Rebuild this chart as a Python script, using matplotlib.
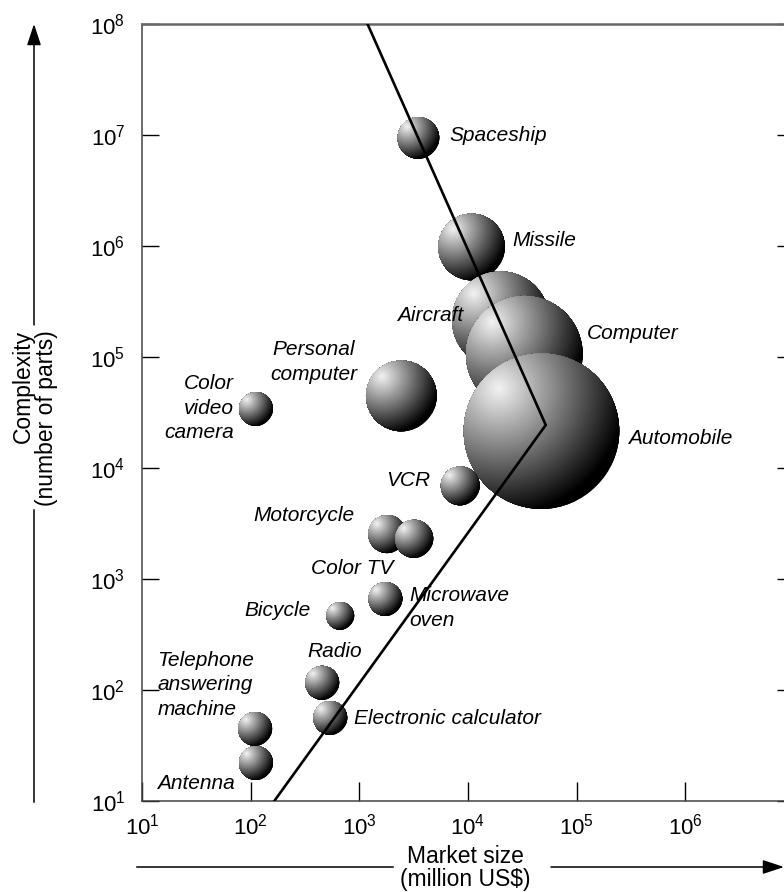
#Complexity vs market size bubble chart

import numpy as np
import matplotlib
matplotlib.use('Agg')
import matplotlib.pyplot as plt
from matplotlib.patches import Circle
from matplotlib.lines import Line2D
from matplotlib.transforms import ScaledTranslation, offset_copy

plt.rcParams['font.family'] = ['Liberation Sans', 'DejaVu Sans']
plt.rcParams['mathtext.fontset'] = 'custom'
plt.rcParams['mathtext.rm'] = 'Liberation Sans'
plt.rcParams['mathtext.it'] = 'Liberation Sans:italic'

#data
products = ['Spaceship', 'Missile', 'Aircraft', 'Computer', 'Automobile',
            'Personal\ncomputer', 'Color\nvideo\ncamera', 'VCR', 'Motorcycle',
            'Color TV', 'Microwave\noven', 'Bicycle', 'Radio',
            'Electronic calculator', 'Telephone\nanswering\nmachine', 'Antenna']
market = [3.5e3, 1.08e4, 2.0e4, 3.3e4, 4.75e4,
          2.44e3, 112, 8.5e3, 1.81e3,
          3.2e3, 1.74e3, 668, 456,
          541, 110, 112]                      # million US$
parts = [9.4e6, 9.8e5, 2.15e5, 1.06e5, 2.15e4,
         4.46e4, 3.4e4, 6.9e3, 2.54e3,
         2.3e3, 660, 465, 116,
         56, 44.6, 22]                        # number of parts
bubble = [15, 24, 35, 42, 56,
          25.5, 12.2, 14, 13.7,
          13.7, 12.2, 10, 12.2,
          12.2, 12.2, 12.2]                   # relative bubble radius

trend_x = [1.19e3, 5.2e4, 165]
trend_y = [1e8, 2.44e4, 10]

xtick_vals = [1e1, 1e2, 1e3, 1e4, 1e5, 1e6]
ytick_vals = [1e1, 1e2, 1e3, 1e4, 1e5, 1e6, 1e7, 1e8]

#label placement (offset in points from bubble centre, alignment)
lab_off = [(22, 1.5), (29.5, 5), (-27, 3.6), (45, 15), (62, -5),
           (-63, 24.5), (-16, 0.7), (-21.6, 3.6), (-60, 13.7),
           (-45, -21.6), (17, -6.5), (-21.6, 3.6), (8.6, 22.3),
           (17, -0.7), (-70.5, 31.7), (-71, -14.4)]
lab_ha = ['left', 'left', 'right', 'left', 'left',
          'center', 'right', 'right', 'center',
          'center', 'left', 'right', 'center',
          'left', 'left', 'left']

fig = plt.figure(figsize=(7.84, 8.92), dpi=100)
ax = fig.add_axes([0.1811, 0.1020, 0.8316, 0.8711])
ax.set_xscale('log')
ax.set_yscale('log')
ax.set_xlim(1e1, 1e7)
ax.set_ylim(1e1, 1e8)


def sphere(x, y, r, z):
    # shaded ball: rings centred on a highlight, clipped to the ball
    hx, hy = -0.55*r, 0.55*r
    reach = r + np.hypot(hx, hy)
    n = 70
    rho = reach*np.linspace(1, 0.015, n)
    d = rho/reach
    g = np.clip(0.96*(1 - d/0.93), 0, 1)
    tr = offset_copy(ax.transData, fig=fig, x=hx, y=hy, units='points')
    sc = ax.scatter(np.full(n, x), np.full(n, y), s=(2*rho)**2,
                    c=np.column_stack([g, g, g]), linewidths=0,
                    transform=tr, zorder=z)
    clip = Circle((0, 0), r/72.0,
                  transform=fig.dpi_scale_trans + ScaledTranslation(x, y, ax.transData))
    sc.set_clip_path(clip)


for i in range(len(products)):
    sphere(market[i], parts[i], bubble[i], 10 + i)

ax.plot(trend_x, trend_y, color='black', lw=1.9, zorder=50)

for i, txt in enumerate(products):
    ax.annotate(txt, (market[i], parts[i]), xytext=lab_off[i],
                textcoords='offset points', ha=lab_ha[i], va='center',
                multialignment=lab_ha[i], linespacing=1.38,
                fontsize=15, style='italic', zorder=60)

ax.set_xlim(1e1, 1e7)
ax.set_ylim(1e1, 1e8)
ax.minorticks_off()
ax.set_xticks(xtick_vals)
ax.set_yticks(ytick_vals)
ax.tick_params(axis='x', direction='in', length=14, width=1, pad=9,
               labelsize=16, top=False)
ax.tick_params(axis='y', direction='in', length=12, width=1, pad=12,
               labelsize=16, right=True)
for s in ax.spines.values():
    s.set_color('#444444')
    s.set_linewidth(1.1)
ax.spines['top'].set_color('#666666')
ax.spines['top'].set_linewidth(1.8)

#axis arrows and titles (figure pixels)
H = 892.0
arrow = dict(arrowstyle='-|>,head_length=1.3,head_width=0.43', color='black',
             lw=1.1, shrinkA=0, shrinkB=0)
ax.annotate('', xy=(34, H-24), xytext=(34, H-325), xycoords='figure pixels',
            textcoords='figure pixels', arrowprops=arrow, annotation_clip=False)
fig.add_artist(Line2D([34/784, 34/784], [1-510/H, 1-802/H], color='black', lw=1.1))
fig.text(35/784, 1-418/H, 'Complexity\n(number of parts)', rotation=90,
         ha='center', va='center', multialignment='right', fontsize=16.5,
         linespacing=1.05)

fig.add_artist(Line2D([137/784, 393/784], [1-867/H, 1-867/H], color='black', lw=1.1))
ax.annotate('', xy=(784, H-867), xytext=(551, H-867), xycoords='figure pixels',
            textcoords='figure pixels', arrowprops=arrow, annotation_clip=False)
fig.text(465/784, 1-868/H, 'Market size\n(million US$)', ha='center',
         va='center', fontsize=16.5, linespacing=1.0)

plt.savefig('out.png', dpi=100)
